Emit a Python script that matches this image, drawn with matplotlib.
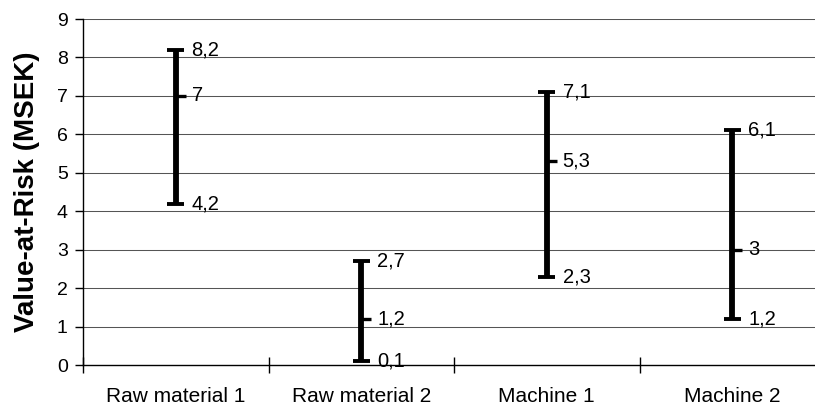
import matplotlib.pyplot as plt
import numpy as np

plt.rcParams['font.family'] = ['Liberation Sans', 'DejaVu Sans']

categories = ['Raw material 1', 'Raw material 2', 'Machine 1', 'Machine 2']
lows = [4.2, 0.1, 2.3, 1.2]
mids = [7.0, 1.2, 5.3, 3.0]
highs = [8.2, 2.7, 7.1, 6.1]


def fmt(v):
    return f"{v:g}".replace('.', ',')


fig = plt.figure(figsize=(8.15, 4.08), dpi=100)
ax = fig.add_axes([83 / 815, 43 / 408, 742 / 815, 346 / 408])

x = np.arange(len(categories))
ax.set_xlim(-0.5, len(categories) - 0.5)
ax.set_ylim(0, 9)

# horizontal grid
for y in range(1, 10):
    ax.axhline(y, color='#555555', lw=0.75, zorder=1)

# high-low lines with caps and middle tick
ax.vlines(x, lows, highs, color='black', lw=4.2, zorder=3)
ax.hlines(highs, x - 0.045, x + 0.045, color='black', lw=2.8, zorder=3)
ax.hlines(lows, x - 0.045, x + 0.045, color='black', lw=2.8, zorder=3)
ax.hlines(mids, x, x + 0.055, color='black', lw=2.4, zorder=3)

for xi, lo, mi, hi in zip(x, lows, mids, highs):
    for v in (lo, mi, hi):
        ax.text(xi + 0.085, v, fmt(v), ha='left', va='center',
                fontsize=14.5, color='black', zorder=4)

# axes styling
for side in ('top', 'right'):
    ax.spines[side].set_visible(False)
ax.spines['left'].set_linewidth(1)
ax.spines['bottom'].set_linewidth(1)

ax.set_yticks(range(0, 10))
ax.tick_params(axis='y', direction='out', length=6, width=1,
               labelsize=14, pad=5)

ax.set_xticks(np.arange(-0.5, len(categories), 1.0))
ax.set_xticklabels([])
ax.set_xticks(x, minor=True)
ax.set_xticklabels(categories, minor=True)
ax.tick_params(axis='x', which='major', direction='inout', length=12, width=1)
ax.tick_params(axis='x', which='minor', length=0, labelsize=15, pad=16)

ax.set_ylabel('Value-at-Risk (MSEK)', fontsize=20, fontweight='bold',
              labelpad=12)

fig.savefig('out.png', dpi=100)
